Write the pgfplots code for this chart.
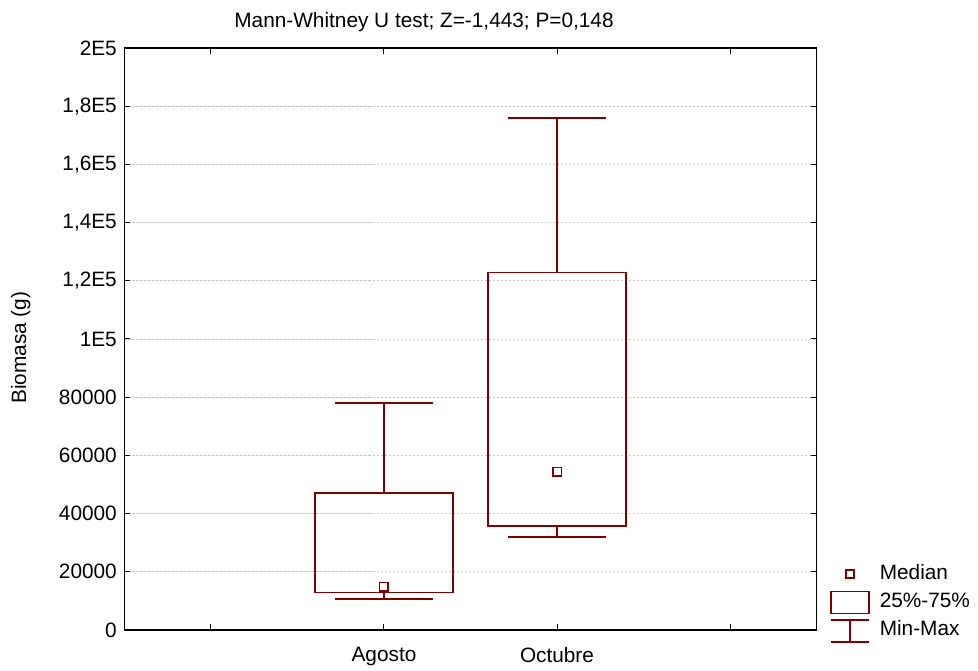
\documentclass[border=0pt]{standalone}
\usepackage{fontspec}
\setmainfont{Liberation Sans}
\usepackage{pgfplots}
\pgfplotsset{compat=1.18}
\definecolor{boxred}{RGB}{128,0,0}
\pgfplotsset{boxline/.style={boxred, line width=1.6pt, no marks, line join=miter, forget plot}}
\begin{document}
\fontsize{20.8}{24}\selectfont
\begin{tikzpicture}
\begin{axis}[
    at={(0pt,0pt)}, anchor=south west,
    scale only axis, width=692pt, height=582pt,
    xmin=-0.5, xmax=3.5, ymin=0, ymax=200000,
    xtick={0,1,2,3}, xticklabels={,Agosto,Octubre,},
    ytick={0,20000,...,200000},
    yticklabels={0,20000,40000,60000,80000,1E5,{1,2E5},{1,4E5},{1,6E5},{1,8E5},2E5},
    scaled y ticks=false,
    yticklabel style={inner sep=0pt, xshift=-7.5pt},
    xticklabel style={inner sep=0pt, yshift=-17pt},
    axis line style={black, line width=1.5pt},
    tick style={black, line width=1pt},
    major tick length=6pt,
    ymajorgrids,
    grid style={gray!45, line width=0.8pt, dash pattern=on 2.5pt off 1.5pt},
    title={Mann-Whitney U test; Z=-1,443; P=0,148},
    title style={at={(axis description cs:0.4328,1.0246)}, anchor=base, inner sep=0pt},
    ylabel={Biomasa (g)},
    ylabel style={at={(axis description cs:-0.150,0.485)}, anchor=center},
    legend style={at={(1.0195,-0.0222)}, anchor=south west, draw=none, fill=none,
        inner sep=0pt, column sep=10pt, row sep=5pt,
        nodes={inner sep=0pt, text height=14pt, text depth=4pt}},
    legend cell align=left,
]
% Agosto: box 25%-75%, whiskers min-max
\addplot[boxline] coordinates {(1,12900) (1.4,12900) (1.4,47000) (0.6,47000) (0.6,12900) (1,12900)};
\addplot[boxline] coordinates {(0.717,78000) (1.283,78000) (1,78000) (1,47000)};
\addplot[boxline] coordinates {(1,12900) (1,10700) (0.717,10700) (1.283,10700)};
% Octubre
\addplot[boxline] coordinates {(2,35700) (2.4,35700) (2.4,122800) (1.6,122800) (1.6,35700) (2,35700)};
\addplot[boxline] coordinates {(1.717,176000) (2.283,176000) (2,176000) (2,122800)};
\addplot[boxline] coordinates {(2,35700) (2,32000) (1.717,32000) (2.283,32000)};
% medians
\addplot[boxred, line width=1.4pt, only marks, mark=square, mark size=4.2pt, forget plot]
    coordinates {(1,14800) (2,54400)};

\addlegendimage{legend image code/.code={
    \path[draw=none] (0pt,-11.5pt) rectangle (38pt,11.5pt);
    \draw[boxred, line width=1.4pt] (15pt,-4pt) rectangle (23pt,4pt);}}
\addlegendentry{Median}
\addlegendimage{legend image code/.code={
    \draw[boxred, line width=1.6pt] (0pt,-11pt) rectangle (38pt,11pt);}}
\addlegendentry{25\%-75\%}
\addlegendimage{legend image code/.code={
    \draw[boxred, line width=1.6pt] (0pt,-11pt) -- (38pt,-11pt) (19pt,-11pt) -- (19pt,11pt) (0pt,11pt) -- (38pt,11pt);}}
\addlegendentry{Min-Max}
\end{axis}
\pgfresetboundingbox
\path[use as bounding box] (-124.5pt,-40pt) rectangle (853.5pt,630pt);
\end{tikzpicture}
\end{document}
